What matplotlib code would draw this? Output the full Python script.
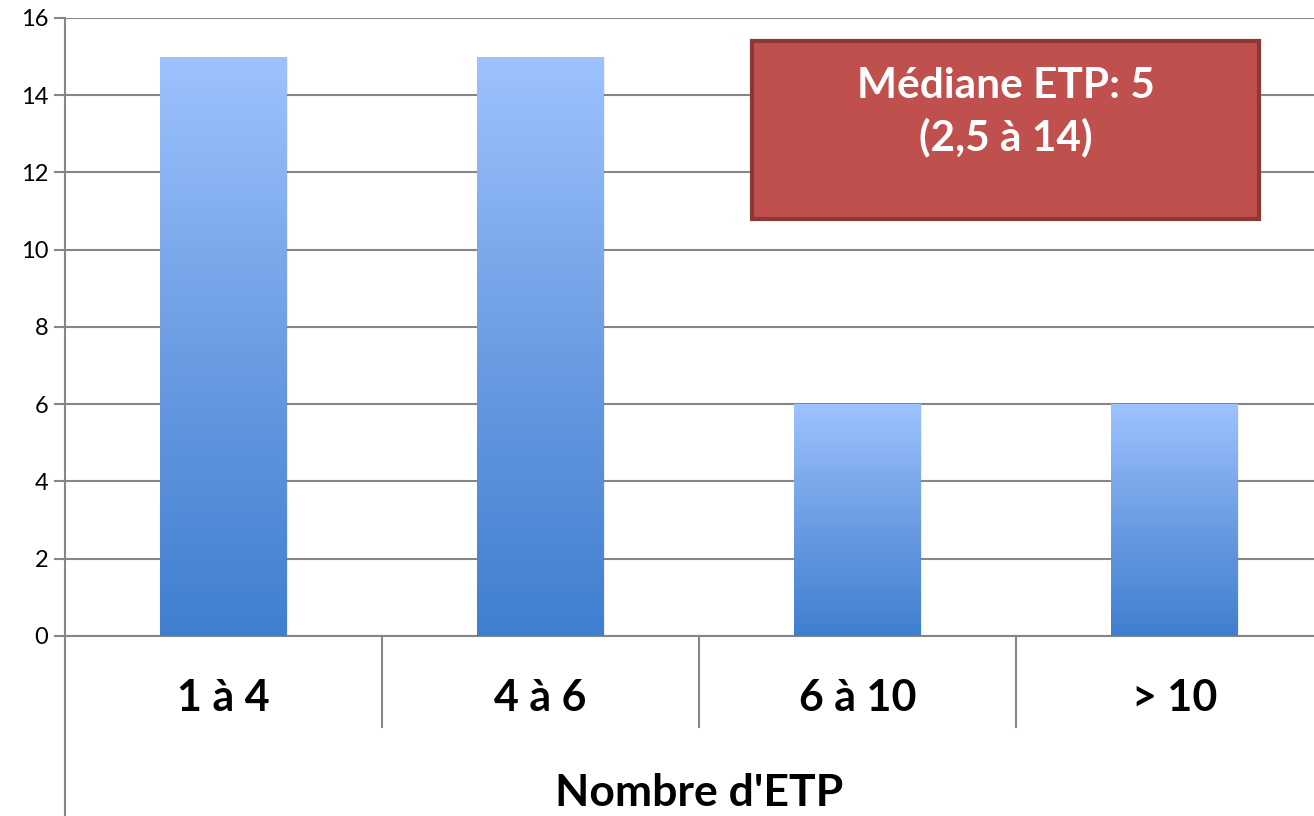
import matplotlib
matplotlib.use("Agg")
import matplotlib.pyplot as plt
import numpy as np
from matplotlib.colors import LinearSegmentedColormap
from matplotlib.patches import FancyBboxPatch

plt.rcParams['font.family'] = ['Lato', 'DejaVu Sans']

categories = ["1 à 4", "4 à 6", "6 à 10", "> 10"]
counts = [15, 15, 6, 6]
y_ticks = [0, 2, 4, 6, 8, 10, 12, 14, 16]
x_label = "Nombre d'ETP"
box_text = "Médiane ETP: 5\n(2,5 à 14)"

GRID = "#868686"
grad = LinearSegmentedColormap.from_list("bar", ["#3F7FD0", "#6D9DE3", "#9DC3FF"])

fig = plt.figure(figsize=(13.14, 8.16), dpi=100)
# the plot area runs past the right edge of the picture
ax = fig.add_axes([65 / 1314, 0.2206, 1268 / 1314, 0.7574])

x = np.arange(len(categories))
bars = ax.bar(x, counts, width=0.4, color="none", zorder=3)
ramp = np.linspace(0, 1, 256).reshape(-1, 1)
for b in bars:
    x0, w, h = b.get_x(), b.get_width(), b.get_height()
    # faint shadow
    ax.bar(x0 + w / 2 + 0.004, h, width=w, bottom=-0.04, color="#000000",
           alpha=0.06, zorder=2, linewidth=0)
    im = ax.imshow(ramp, extent=[x0, x0 + w, 0, h], origin="lower",
                   cmap=grad, aspect="auto", zorder=3)
    im.set_clip_path(b)

ax.set_xlim(-0.5, 3.5)
ax.set_ylim(0, 16)
ax.set_yticks(y_ticks)
ax.set_yticklabels([str(t) for t in y_ticks], fontsize=17)
ax.yaxis.grid(True, color=GRID, linewidth=1.5, zorder=0)
ax.tick_params(axis="y", length=8, width=1.5, color=GRID, pad=4)
ax.set_xticks([])
for s in ["top", "right"]:
    ax.spines[s].set_visible(False)
for s in ["left", "bottom"]:
    ax.spines[s].set_color(GRID)
    ax.spines[s].set_linewidth(1.5)

tr = ax.get_xaxis_transform()
# category separators below the axis
for sep in x[:-1] + 0.5:
    ax.plot([sep, sep], [0, -0.147], transform=tr, color=GRID, lw=1.5,
            clip_on=False)
# left axis continues down to the bottom
ax.plot([-0.5, -0.5], [0, -0.30], transform=tr, color=GRID, lw=1.5,
        clip_on=False)

for xi, lab in zip(x, categories):
    ax.text(xi, -0.101, lab, transform=tr, ha="center", va="center",
            fontsize=31, fontweight="bold")
ax.text(0.5, -0.254, x_label, transform=ax.transAxes, ha="center",
        va="center", fontsize=32, fontweight="bold")

# red annotation box
bx0, by0 = 752 / 1314, (816 - 219) / 816
bw, bh = (1259 - 752) / 1314, (219 - 41) / 816
box = FancyBboxPatch((bx0, by0), bw, bh, boxstyle="square,pad=0",
                     transform=fig.transFigure, facecolor="#C0504D",
                     edgecolor="#8C3836", linewidth=3, zorder=5)
fig.patches.append(box)
fig.text(bx0 + bw / 2, (816 - 112) / 816, box_text, ha="center", va="center",
         color="white", fontsize=30.5, fontweight="bold", linespacing=1.4,
         zorder=6)

fig.savefig("out.png", dpi=100)
